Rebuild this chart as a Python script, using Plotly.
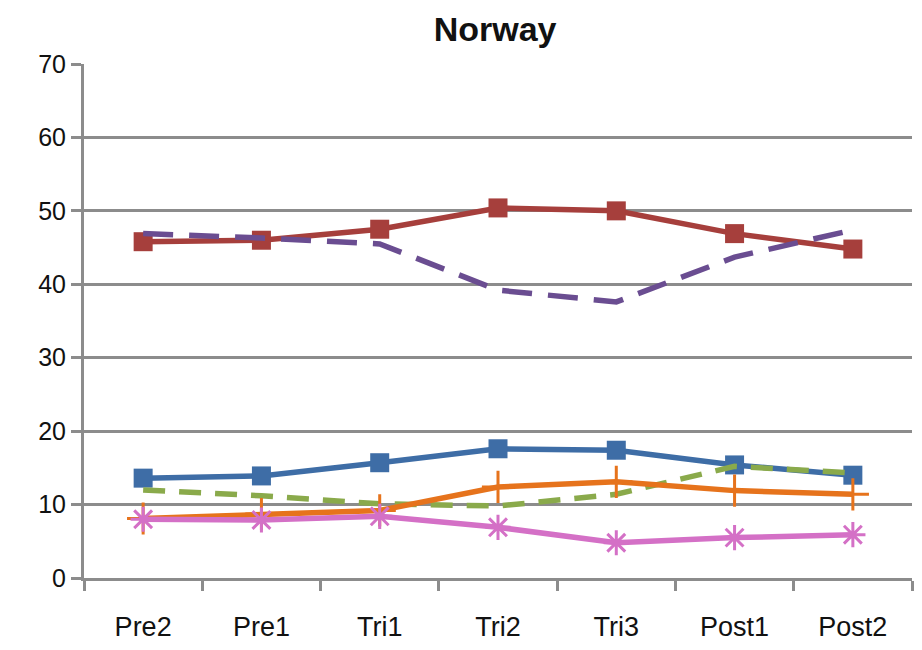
import plotly.graph_objects as go

periods = ["Pre2", "Pre1", "Tri1", "Tri2", "Tri3", "Post1", "Post2"]

blue_sq = [13.6, 13.9, 15.7, 17.6, 17.4, 15.4, 14.0]
red_sq = [45.8, 46.0, 47.5, 50.4, 50.0, 46.9, 44.8]
green_dash = [12.0, 11.2, 10.1, 9.8, 11.4, 15.2, 14.3]
purple_dash = [46.9, 46.3, 45.5, 39.2, 37.6, 43.7, 47.4]
orange_plus = [8.1, 8.7, 9.2, 12.4, 13.1, 11.9, 11.4]
pink_star = [8.0, 7.9, 8.4, 6.9, 4.8, 5.5, 5.9]

GRID = "#8c8c8c"

fig = go.Figure()


def add(values, color, dash="solid", symbol=None, size=16, mline=0):
    marker = dict(size=size, color=color, symbol=symbol or "square",
                  line=dict(width=mline, color=color))
    fig.add_trace(go.Scatter(
        x=periods, y=values, mode="lines+markers" if symbol else "lines",
        line=dict(color=color, width=5.5, dash=dash),
        marker=marker, showlegend=False))


add(blue_sq, "#3E6DA6", symbol="square", size=19)
add(red_sq, "#A63F3C", symbol="square", size=19)
add(green_dash, "#8AAA4B", dash="22px,14px")
add(purple_dash, "#6A4D91", dash="30px,16px")
add(orange_plus, "#E6731C", symbol="cross-thin-open", size=23, mline=3)
add(pink_star, "#D470C6", symbol="asterisk-open", size=21, mline=3)

fig.update_layout(
    width=922, height=650,
    margin=dict(l=84, r=10, t=64, b=72),
    paper_bgcolor="white", plot_bgcolor="white",
    font=dict(family="Liberation Sans, Arial, sans-serif", color="#111111"),
    title=dict(text="<b>Norway</b>", x=0.537, xanchor="center",
               y=0.955, yanchor="middle",
               font=dict(size=34, color="#111111")),
)

fig.update_xaxes(
    type="category", tickson="boundaries", ticks="outside", ticklen=10,
    tickwidth=3, tickcolor=GRID, showline=True, linecolor=GRID, linewidth=3,
    showgrid=False, tickfont=dict(size=27), range=[-0.5, 6.5],
    ticklabelstandoff=23, automargin=False,
)
fig.update_yaxes(
    range=[0, 70], dtick=10, ticks="outside", ticklen=10, tickwidth=3,
    tickcolor=GRID, showline=True, linecolor=GRID, linewidth=3,
    showgrid=True, gridcolor=GRID, gridwidth=3, zeroline=False,
    tickfont=dict(size=25), automargin=False,
)

fig.write_html("out.html")
